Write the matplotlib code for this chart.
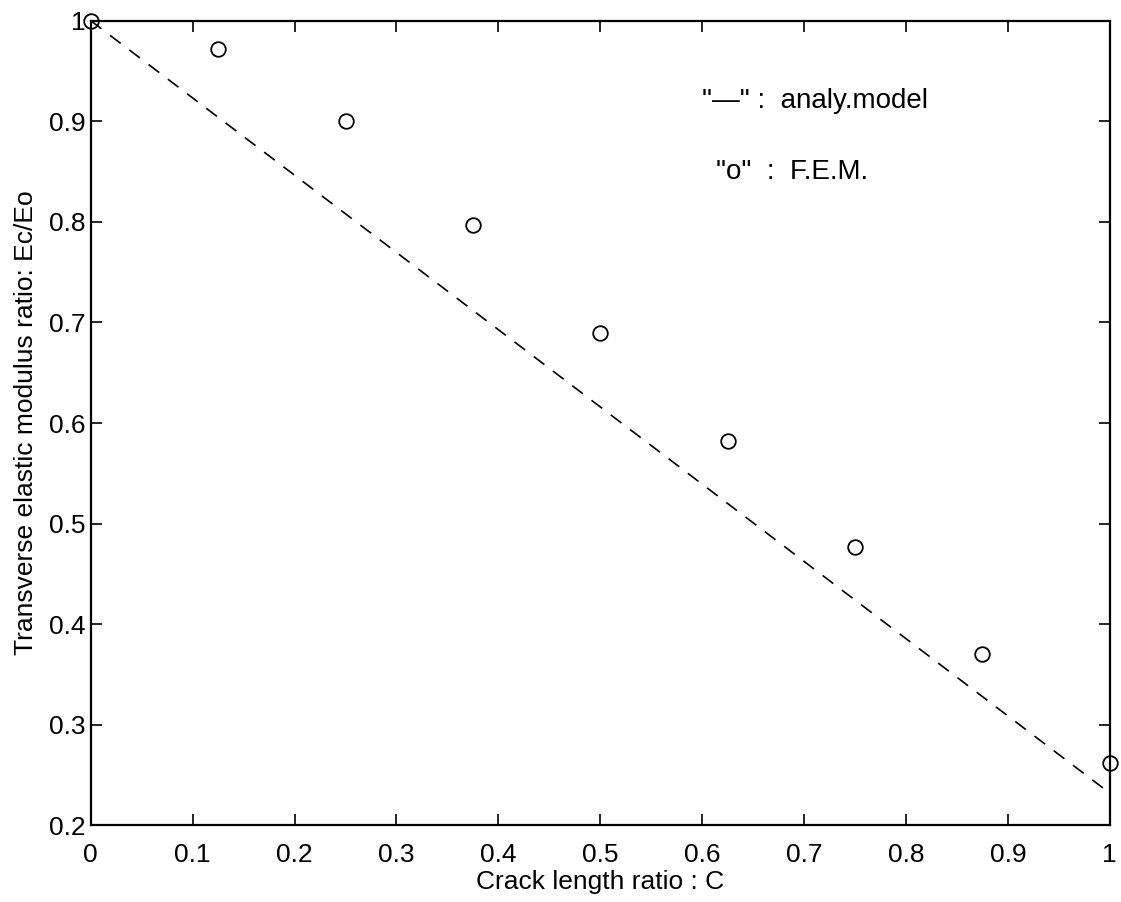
import matplotlib
matplotlib.use("Agg")
import matplotlib.pyplot as plt

# crack length ratio C and the two results
c_fem = [0, 0.125, 0.25, 0.375, 0.5, 0.625, 0.75, 0.875, 1.0]
e_fem = [1.0, 0.972, 0.9, 0.797, 0.69, 0.582, 0.477, 0.37, 0.262]
c_model = [0, 1.0]
e_model = [1.0, 0.232]

xticks = [0, 0.1, 0.2, 0.3, 0.4, 0.5, 0.6, 0.7, 0.8, 0.9, 1]
xticklabels = ["0", "0.1", "0.2", "0.3", "0.4", "0.5", "0.6", "0.7", "0.8", "0.9", "1"]
yticks = [0.2, 0.3, 0.4, 0.5, 0.6, 0.7, 0.8, 0.9, 1]
yticklabels = ["0.2", "0.3", "0.4", "0.5", "0.6", "0.7", "0.8", "0.9", "1"]

plt.rcParams['font.family'] = ['Liberation Sans', 'DejaVu Sans']

fig = plt.figure(figsize=(11.21, 9.02), dpi=100)
ax = fig.add_axes([0.081, 0.085, 0.909, 0.892])

ax.plot(c_model, e_model, color='black', linestyle=(0, (8, 6.5)), linewidth=1.2)
ax.plot(c_fem, e_fem, 'o', markersize=10.5, markerfacecolor='none',
        markeredgecolor='black', markeredgewidth=1.3, clip_on=False)

ax.set_xlim(0, 1)
ax.set_ylim(0.2, 1)
ax.set_xticks(xticks)
ax.set_xticklabels(xticklabels)
ax.set_yticks(yticks)
ax.set_yticklabels(yticklabels)
ax.tick_params(direction='in', length=8, width=1.2, top=True, right=True,
               labelsize=19)
ax.tick_params(axis='x', pad=13)
ax.tick_params(axis='y', pad=4)
for s in ax.spines.values():
    s.set_linewidth(1.6)

ax.set_xlabel('Crack length ratio : C', fontsize=19, labelpad=2)
ax.set_ylabel('Transverse elastic modulus ratio: Ec/Eo', fontsize=19, labelpad=8)

ax.text(0.600, 0.900, '"\u2014" :  analy.model', transform=ax.transAxes,
        fontsize=20, va='center', ha='left')
ax.text(0.614, 0.812, '"o"  :  F.E.M.', transform=ax.transAxes,
        fontsize=20, va='center', ha='left')

fig.savefig('out.png', dpi=100)
